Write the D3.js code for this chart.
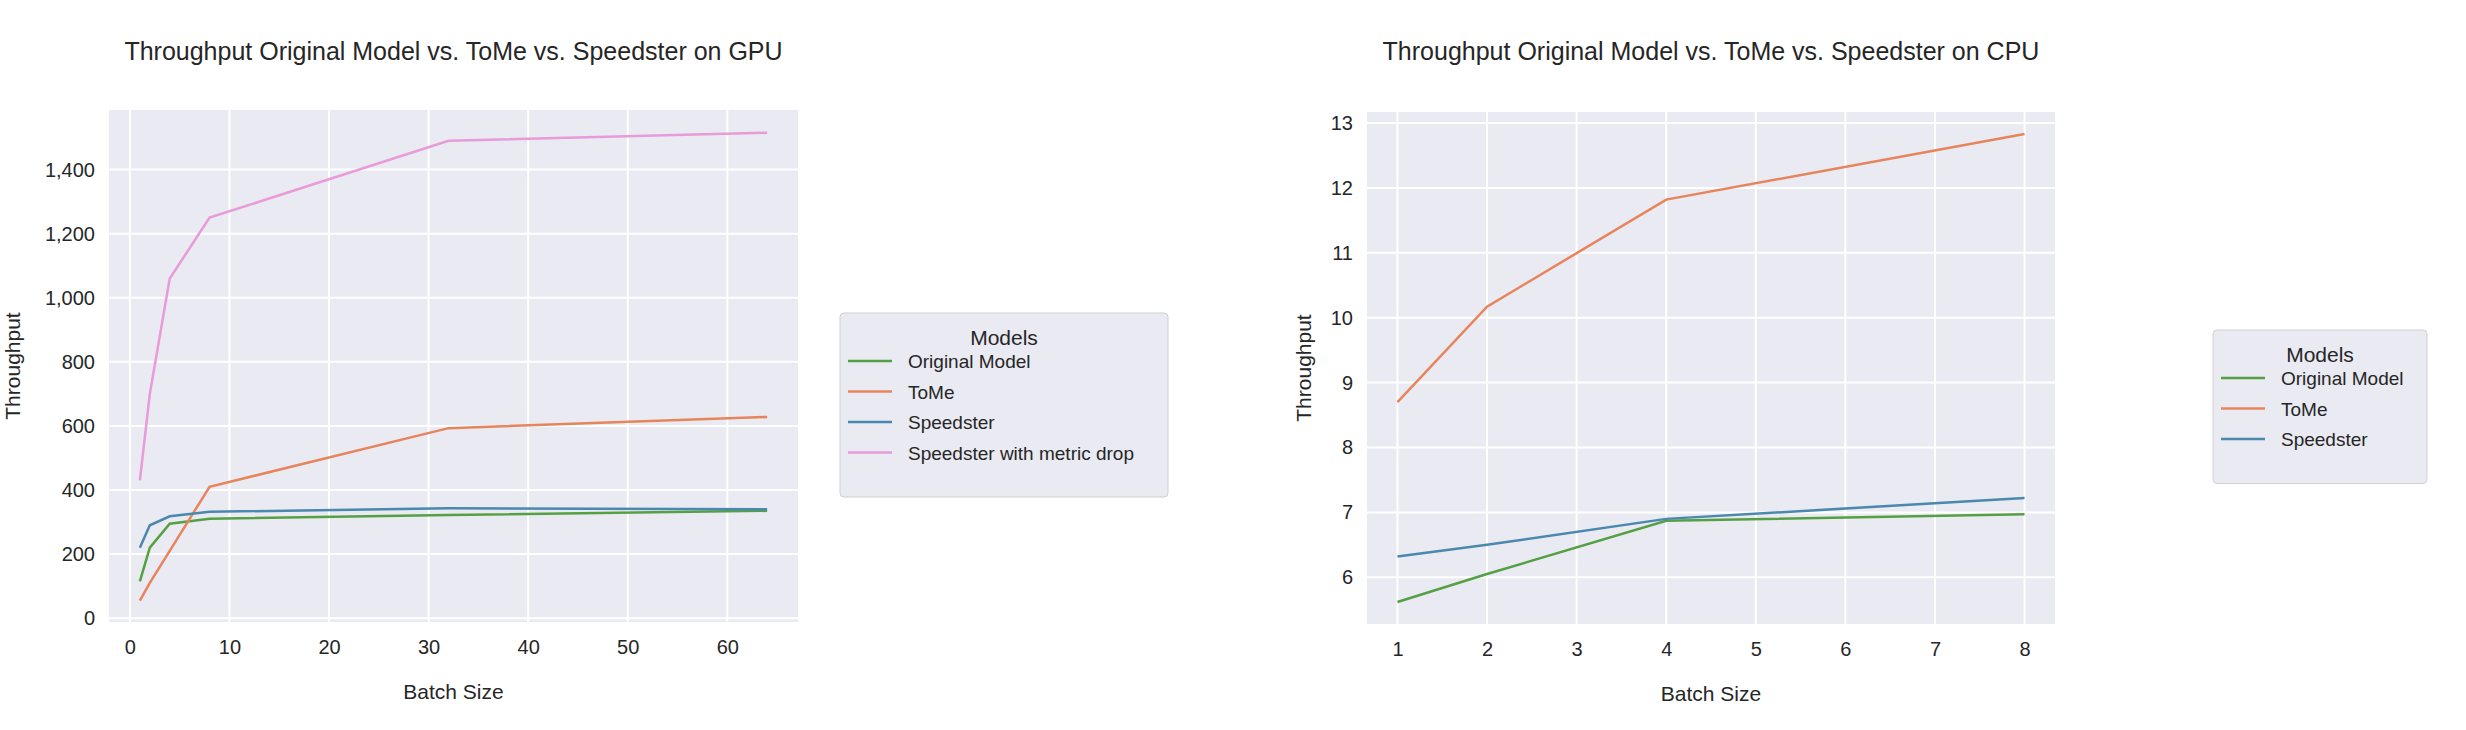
<!DOCTYPE html>
<html><head><meta charset="utf-8">
<script src="https://cdn.jsdelivr.net/npm/d3@7"></script>
<style>body{margin:0;background:#fff;font-family:"Liberation Sans",Arial,sans-serif}</style>
</head><body><svg id="chart" width="2466" height="730"></svg>
<script>
// GPU data
const gpuBatch = [1, 2, 4, 8, 32, 64];
const gpuOriginal = [115, 220, 295, 310, 322, 335];
const gpuTome = [55, 110, 210, 410, 593, 628];
const gpuSpeedster = [220, 290, 318, 332, 343, 340];
const gpuSpeedsterDrop = [430, 700, 1060, 1250, 1490, 1515];
const gpuXTicks = [0, 10, 20, 30, 40, 50, 60];
const gpuYTicks = [0, 200, 400, 600, 800, 1000, 1200, 1400];

// CPU data
const cpuBatch = [1, 2, 4, 8];
const cpuOriginal = [5.62, 6.05, 6.87, 6.97];
const cpuTome = [8.7, 10.17, 11.82, 12.83];
const cpuSpeedster = [6.32, 6.5, 6.9, 7.22];
const cpuXTicks = [1, 2, 3, 4, 5, 6, 7, 8];
const cpuYTicks = [6, 7, 8, 9, 10, 11, 12, 13];

const colors = { "Original Model": "#55a043", "ToMe": "#e8845c", "Speedster": "#4a88ad", "Speedster with metric drop": "#e99ad9" };

const svg = d3.select('#chart');

function drawPanel(o) {
    const g = svg.append('g');
    const x = d3.scaleLinear().domain(o.xDomain).range([o.left, o.right]);
    const y = d3.scaleLinear().domain(o.yDomain).range([o.bottom, o.top]);
    g.append('rect').attr('x', o.left).attr('y', o.top)
        .attr('width', o.right - o.left).attr('height', o.bottom - o.top).attr('fill', '#eaeaf2');

    // grid
    g.append('g').selectAll('line').data(o.xTicks).join('line')
        .attr('x1', d => x(d)).attr('x2', d => x(d)).attr('y1', o.top).attr('y2', o.bottom)
        .attr('stroke', '#fff').attr('stroke-width', 2);
    g.append('g').selectAll('line').data(o.yTicks).join('line')
        .attr('y1', d => y(d)).attr('y2', d => y(d)).attr('x1', o.left).attr('x2', o.right)
        .attr('stroke', '#fff').attr('stroke-width', 2);

    // axes
    const ax = g.append('g').attr('transform', `translate(0,${o.bottom})`)
        .call(d3.axisBottom(x).tickValues(o.xTicks).tickSize(0).tickPadding(18));
    const ay = g.append('g').attr('transform', `translate(${o.left},0)`)
        .call(d3.axisLeft(y).tickValues(o.yTicks).tickSize(0).tickPadding(14));
    [ax, ay].forEach(a => {
        a.select('.domain').remove();
        a.selectAll('text').attr('font-size', 20).attr('fill', '#262626').attr('font-family', '"Liberation Sans",Arial,sans-serif');
    });

    // lines
    const line = d3.line().x(d => x(d[0])).y(d => y(d[1]));
    o.series.forEach(s => {
        g.append('path').datum(o.xs.map((v, i) => [v, s.values[i]]))
            .attr('d', line).attr('fill', 'none').attr('stroke', colors[s.name]).attr('stroke-width', 2.5);
    });

    // labels
    g.append('text').attr('x', (o.left + o.right) / 2).attr('y', 60).attr('text-anchor', 'middle')
        .attr('font-size', 25).attr('fill', '#262626').text(o.title);
    g.append('text').attr('x', (o.left + o.right) / 2).attr('y', o.bottom + 77).attr('text-anchor', 'middle')
        .attr('font-size', 21).attr('fill', '#262626').text('Batch Size');
    g.append('text').attr('transform', `translate(${o.yLabelX},${(o.top + o.bottom) / 2}) rotate(-90)`)
        .attr('text-anchor', 'middle').attr('font-size', 21).attr('fill', '#262626').text('Throughput');

    // legend
    const lg = g.append('g').attr('transform', `translate(${o.legX},${o.legY})`);
    const h = 62 + o.series.length * 30.5;
    lg.append('rect').attr('width', o.legW).attr('height', h).attr('rx', 4)
        .attr('fill', '#eaeaf2').attr('stroke', '#d0d0d0');
    lg.append('text').attr('x', o.legW / 2).attr('y', 32).attr('text-anchor', 'middle')
        .attr('font-size', 21).attr('fill', '#262626').text('Models');
    o.series.forEach((s, i) => {
        const yy = 48 + i * 30.5;
        lg.append('line').attr('x1', 8).attr('x2', 52).attr('y1', yy).attr('y2', yy)
            .attr('stroke', colors[s.name]).attr('stroke-width', 2.5);
        lg.append('text').attr('x', 68).attr('y', yy + 7).attr('font-size', 19).attr('fill', '#262626').text(s.name);
    });
}

drawPanel({
    left: 109, right: 798, top: 110, bottom: 622,
    xDomain: [-2.1, 67.1], yDomain: [-12, 1586],
    xTicks: gpuXTicks, yTicks: gpuYTicks, xs: gpuBatch,
    title: 'Throughput Original Model vs. ToMe vs. Speedster on GPU', yLabelX: 20,
    legX: 840, legY: 313, legW: 328,
    series: [
        { name: 'Original Model', values: gpuOriginal },
        { name: 'ToMe', values: gpuTome },
        { name: 'Speedster', values: gpuSpeedster },
        { name: 'Speedster with metric drop', values: gpuSpeedsterDrop }
    ]
});

drawPanel({
    left: 1367, right: 2055, top: 112, bottom: 624,
    xDomain: [0.66, 8.34], yDomain: [5.28, 13.17],
    xTicks: cpuXTicks, yTicks: cpuYTicks, xs: cpuBatch,
    title: 'Throughput Original Model vs. ToMe vs. Speedster on CPU', yLabelX: 1311,
    legX: 2213, legY: 330, legW: 214,
    series: [
        { name: 'Original Model', values: cpuOriginal },
        { name: 'ToMe', values: cpuTome },
        { name: 'Speedster', values: cpuSpeedster }
    ]
});
</script></body></html>
